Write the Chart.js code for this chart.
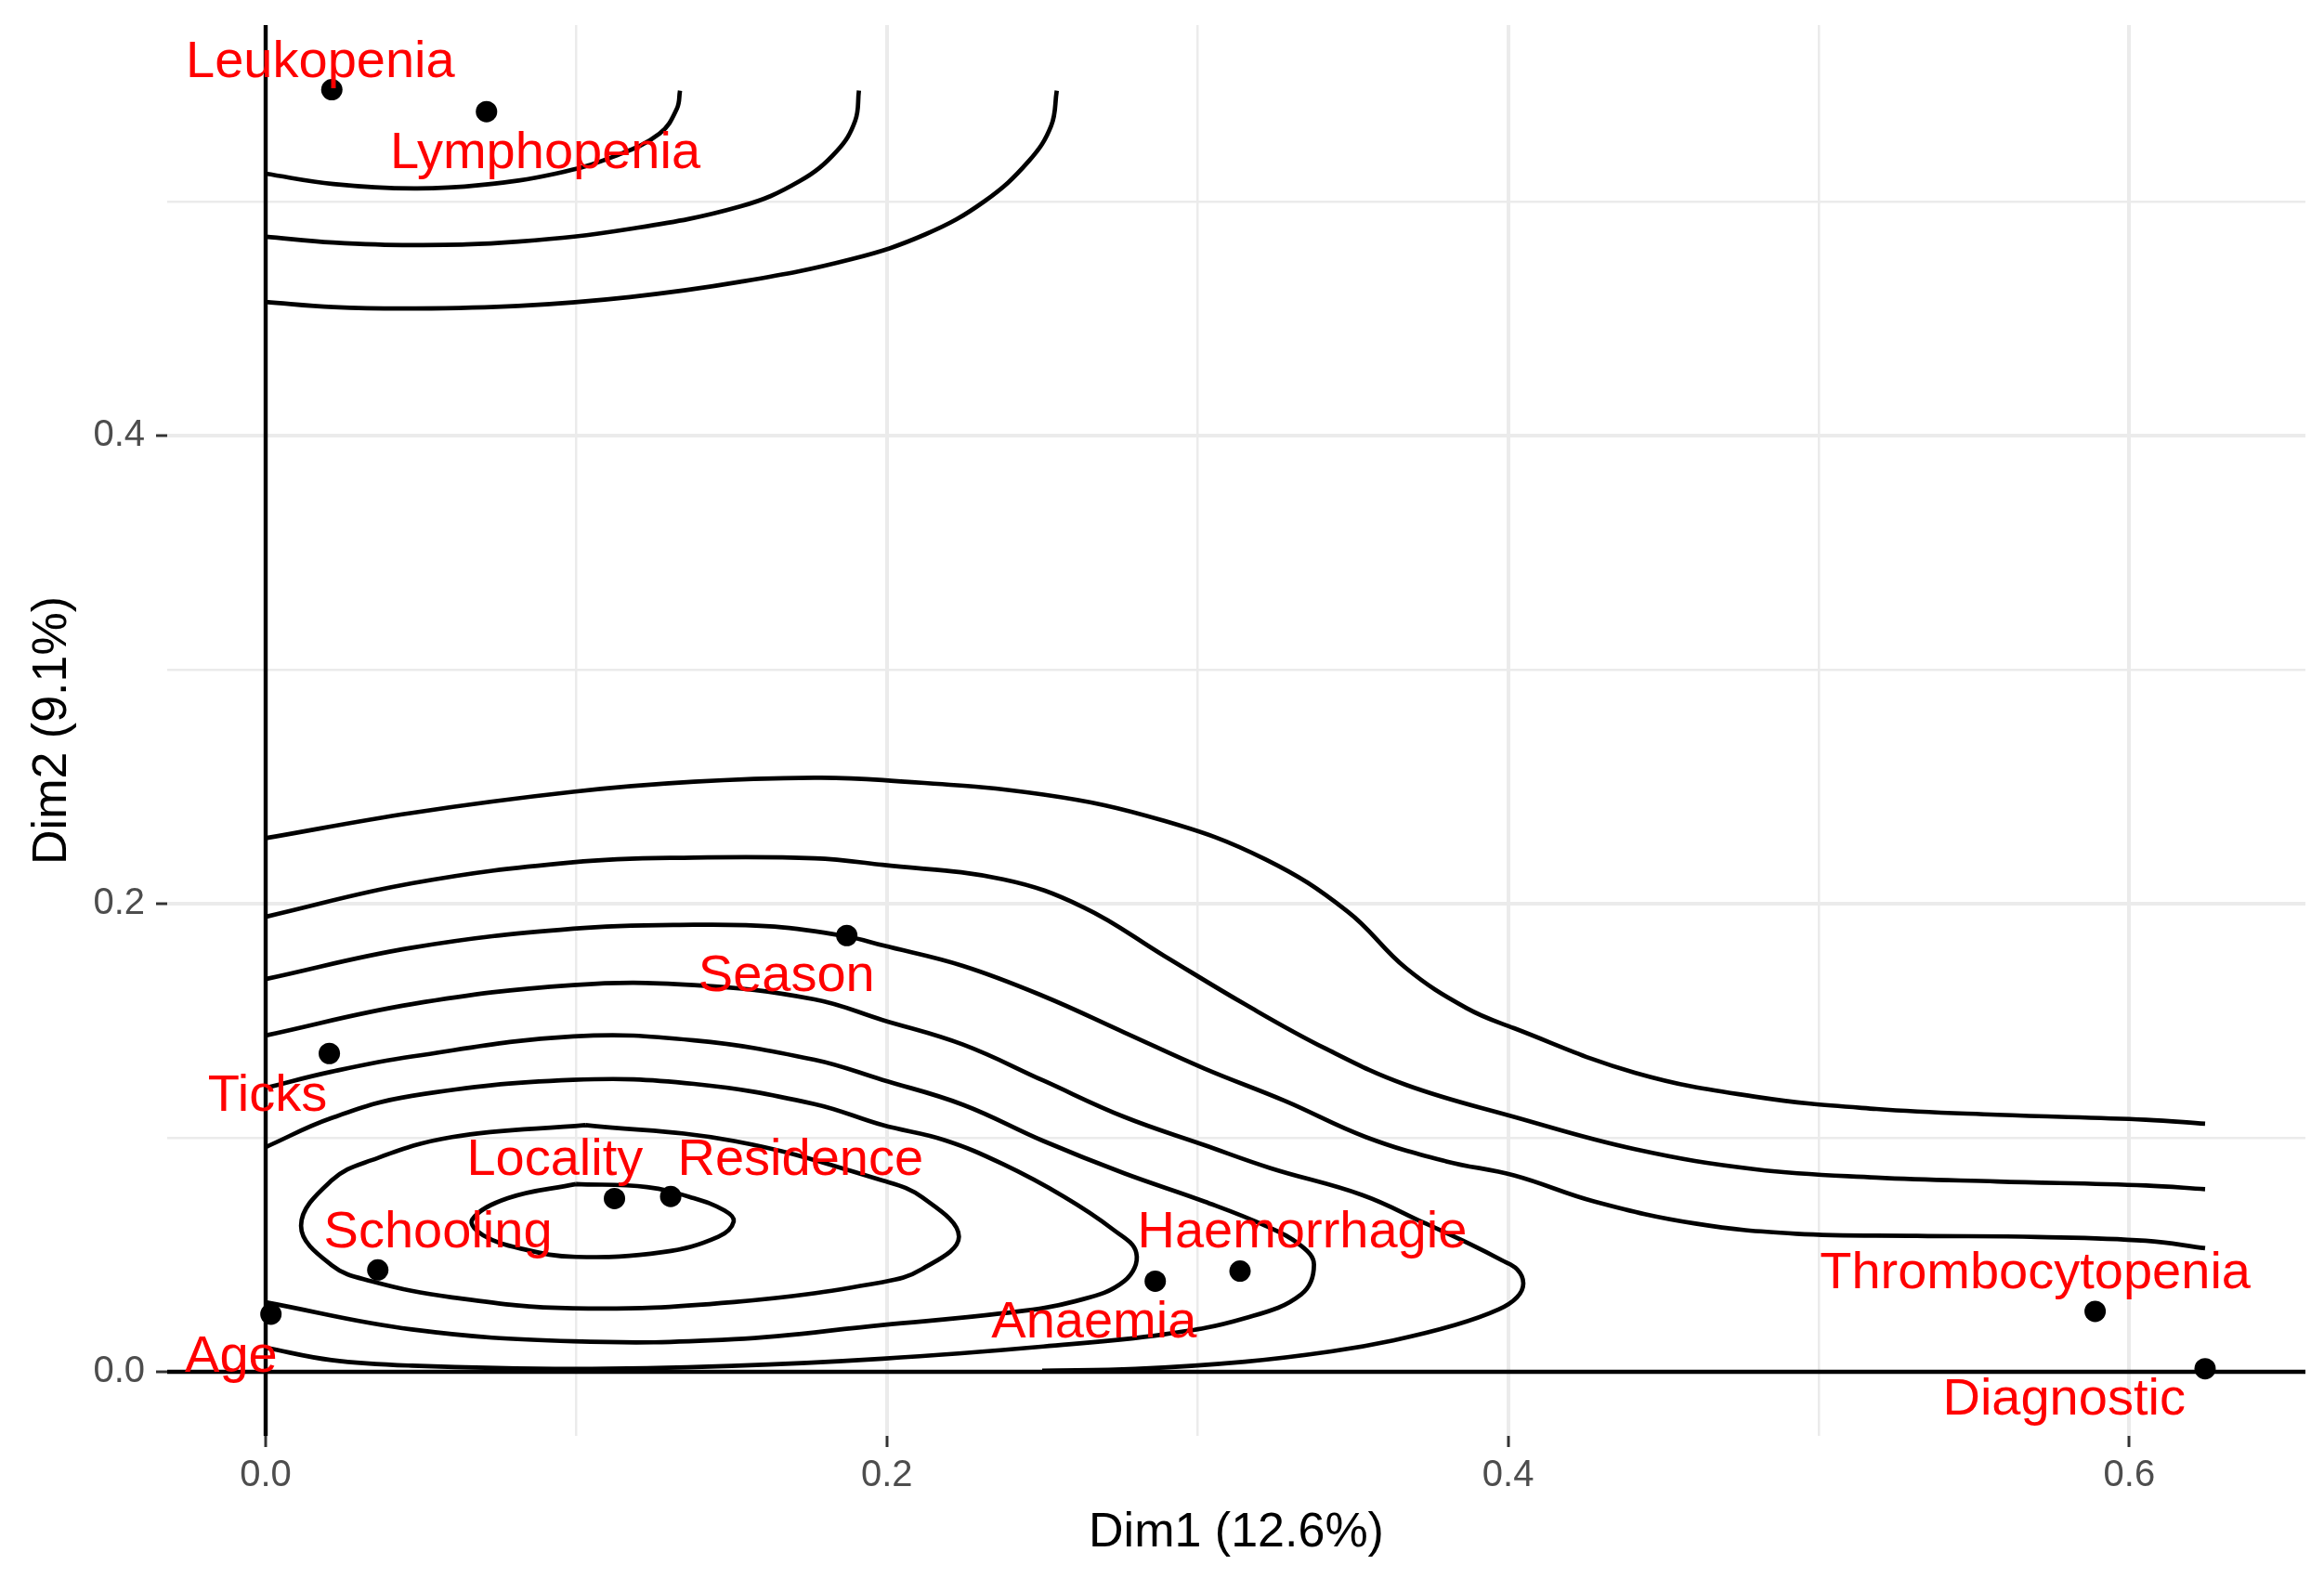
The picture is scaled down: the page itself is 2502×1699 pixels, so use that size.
<!DOCTYPE html>
<html>
<head>
<meta charset="utf-8">
<script src="https://cdn.jsdelivr.net/npm/chart.js@4.4.1/dist/chart.umd.min.js"></script>
<style>
  html, body { margin: 0; padding: 0; background: #fff; }
  canvas { display: block; }
</style>
</head>
<body>
<canvas id="chart1" width="2502" height="1699"></canvas>
<script>
// variables (points + red labels)
const varNames = ["Leukopenia", "Lymphopenia", "Season", "Ticks", "Locality", "Residence",
  "Schooling", "Age", "Anaemia", "Haemorrhagie", "Thrombocytopenia", "Diagnostic"];
const dim1 = [0.0213, 0.0711, 0.1871, 0.0205, 0.1123, 0.1304, 0.0361, 0.0017, 0.2864, 0.3137, 0.589, 0.6244];
const dim2 = [0.5478, 0.5384, 0.1864, 0.136, 0.074, 0.0749, 0.0435, 0.0246, 0.0387, 0.043, 0.0258, 0.0013];
const labelDim1 = [0.0176, 0.090, 0.1677, 0.0006, 0.0931, 0.1722, 0.0555, -0.0111, 0.2667, 0.3337, 0.5697, 0.579];
const labelDim2 = [0.5592, 0.5205, 0.1687, 0.1175, 0.0904, 0.0904, 0.0594, 0.006, 0.0206, 0.0594, 0.0418, -0.0122];

// axes
const xLimits = [-0.0317, 0.6567];
const yLimits = [-0.0274, 0.5754];
const xTickValues = [0, 0.1, 0.2, 0.3, 0.4, 0.5, 0.6];
const yTickValues = [0, 0.1, 0.2, 0.3, 0.4, 0.5];
const majorTickLabels = { "0.0": "0.0", "0.2": "0.2", "0.4": "0.4", "0.6": "0.6" };

// density contours (Dim1, Dim2)
const topContour1 = [[0, 0.5119], [0.0218, 0.5075], [0.0478, 0.5056], [0.0694, 0.5071], [0.0933, 0.5119],
  [0.1124, 0.5194], [0.1268, 0.529], [0.1324, 0.5397], [0.1334, 0.5474]];
const topContour2 = [[0, 0.485], [0.0218, 0.4825], [0.0478, 0.4814], [0.0813, 0.4829], [0.1172, 0.4883],
  [0.1528, 0.4979], [0.1719, 0.5087], [0.1839, 0.5216], [0.1898, 0.5345], [0.191, 0.5474]];
const topContour3 = [[0, 0.4571], [0.0218, 0.4549], [0.0478, 0.4543], [0.0813, 0.4554], [0.1172, 0.4592],
  [0.1528, 0.4657], [0.1886, 0.4754], [0.2126, 0.4861], [0.2314, 0.5001], [0.2457, 0.5173],
  [0.2529, 0.5324], [0.2547, 0.5474]];

const bandContour1 = [[0, 0.228], [0.0471, 0.2388], [0.099, 0.2478], [0.1379, 0.2521], [0.1767, 0.2538],
  [0.1986, 0.2528], [0.2504, 0.2466], [0.2893, 0.2354], [0.3218, 0.219], [0.3483, 0.1967], [0.3671, 0.1725],
  [0.3866, 0.1554], [0.4019, 0.1468], [0.4408, 0.1278], [0.4797, 0.1175], [0.5186, 0.1123], [0.5575, 0.1098],
  [0.6053, 0.1077], [0.6244, 0.106]];
const bandContour2 = [[0, 0.1944], [0.0471, 0.2087], [0.099, 0.2177], [0.1379, 0.2197], [0.1767, 0.2194],
  [0.1986, 0.2166], [0.2374, 0.2104], [0.2634, 0.1984], [0.2893, 0.1777], [0.3153, 0.157], [0.3412, 0.1381],
  [0.3671, 0.1226], [0.4019, 0.1089], [0.4408, 0.0951], [0.4797, 0.0865], [0.5186, 0.083], [0.5575, 0.0813],
  [0.6053, 0.0796], [0.6244, 0.078]];
const bandContour3 = [[0, 0.1678], [0.0471, 0.1812], [0.099, 0.1893], [0.1379, 0.191], [0.1638, 0.1902],
  [0.1871, 0.186], [0.1986, 0.1822], [0.2245, 0.1734], [0.2504, 0.1605], [0.2764, 0.145], [0.3023, 0.1295],
  [0.3282, 0.1157], [0.3542, 0.1003], [0.3801, 0.0899], [0.4019, 0.0839], [0.4279, 0.0727], [0.4603, 0.0633],
  [0.4927, 0.059], [0.5316, 0.0581], [0.5705, 0.0576], [0.6053, 0.056], [0.6244, 0.0528]];

const loopContour4 = [[0, 0.1437], [0.0471, 0.1571], [0.099, 0.1652], [0.1379, 0.1652], [0.1767, 0.1591],
  [0.1986, 0.1503], [0.2245, 0.1398], [0.2504, 0.1244], [0.2764, 0.1089], [0.3023, 0.0968], [0.3235, 0.087],
  [0.3531, 0.0755], [0.373, 0.0636], [0.388, 0.0544], [0.3979, 0.0477], [0.4029, 0.0438], [0.4049, 0.0378],
  [0.4029, 0.0319], [0.3969, 0.0266], [0.383, 0.02], [0.363, 0.0134], [0.3431, 0.0087], [0.3153, 0.0043],
  [0.28, 0.0012], [0.25, 0.0004]];
const loopContour3 = [[0, 0.1213], [0.0212, 0.1282], [0.0471, 0.1347], [0.099, 0.1433], [0.1379, 0.1416],
  [0.1767, 0.1333], [0.1986, 0.1247], [0.2245, 0.1141], [0.2504, 0.0986], [0.2764, 0.0848], [0.3023, 0.0727],
  [0.3218, 0.0624], [0.3334, 0.0538], [0.3375, 0.0458], [0.3334, 0.0331], [0.3153, 0.0229], [0.2893, 0.016],
  [0.2504, 0.0108], [0.1986, 0.0056], [0.15, 0.0025], [0.099, 0.0012], [0.0471, 0.0026], [0.0212, 0.005],
  [0, 0.0103]];
const loopContour2 = [[0, 0.096], [0.0212, 0.1084], [0.0471, 0.1179], [0.099, 0.1247], [0.1379, 0.123],
  [0.1767, 0.1144], [0.1986, 0.1054], [0.2185, 0.099], [0.2374, 0.0887], [0.2569, 0.0749], [0.2725, 0.0611],
  [0.2803, 0.0508], [0.2764, 0.0387], [0.2608, 0.0302], [0.2374, 0.025], [0.1986, 0.02], [0.1508, 0.0139],
  [0.099, 0.013], [0.0471, 0.0181], [0, 0.0297]];
const ringContour2 = [[0.1029, 0.1054], [0.1508, 0.0986], [0.1986, 0.0817], [0.2114, 0.0745], [0.2232, 0.0577],
  [0.2114, 0.0439], [0.1986, 0.0383], [0.1508, 0.0298], [0.099, 0.0271], [0.06, 0.0318], [0.0341, 0.0387],
  [0.0212, 0.0456], [0.0114, 0.0624], [0.0212, 0.0817], [0.0341, 0.0904], [0.06, 0.1003], [0.1029, 0.1054]];
const ringContour1 = [[0.0999, 0.0802], [0.1228, 0.0789], [0.1378, 0.0742], [0.1477, 0.0689], [0.1507, 0.0643],
  [0.1457, 0.0577], [0.1278, 0.0511], [0.0999, 0.0491], [0.0829, 0.0524], [0.07, 0.0583], [0.0665, 0.065],
  [0.078, 0.0742], [0.0999, 0.0802]];

const contours = [topContour1, topContour2, topContour3, bandContour1, bandContour2, bandContour3,
  loopContour4, loopContour3, loopContour2, ringContour2, ringContour1];

const toXY = (pts) => pts.map(([x, y]) => ({ x, y }));
const isMajor = (v) => Math.round(v * 10) % 2 === 0;
const fmt = (v) => (Math.round(v * 10) / 10).toFixed(1);

const labelPlugin = {
  id: "varLabels",
  afterDatasetsDraw(chart) {
    const { ctx, scales } = chart;
    ctx.save();
    ctx.font = '56px "Liberation Sans", Arial, sans-serif';
    ctx.fillStyle = "#FF0000";
    ctx.textAlign = "center";
    ctx.textBaseline = "middle";
    varNames.forEach((name, i) => {
      ctx.fillText(name, scales.x.getPixelForValue(labelDim1[i]), scales.y.getPixelForValue(labelDim2[i]));
    });
    ctx.restore();
  }
};

const mountChart = () => {
  const lineSet = (pts, width) => ({
    data: toXY(pts),
    showLine: true,
    borderColor: "#000000",
    borderWidth: width,
    pointRadius: 0,
    tension: 0.4,
    fill: false
  });

  const datasets = [
    lineSet([[0, yLimits[0]], [0, yLimits[1]]], 4.4),
    lineSet([[xLimits[0], 0], [xLimits[1], 0]], 4.4),
    ...contours.map((c) => lineSet(c, 4.7)),
    {
      data: dim1.map((x, i) => ({ x, y: dim2[i] })),
      pointRadius: 11.5,
      pointBackgroundColor: "#000000",
      pointBorderWidth: 0,
      showLine: false
    }
  ];

  const gridOpts = {
    color: "#EBEBEB",
    lineWidth: (c) => (c.tick && isMajor(c.tick.value) ? 4 : 2.5),
    tickColor: (c) => (c.tick && isMajor(c.tick.value) ? "#333333" : "rgba(0,0,0,0)"),
    tickWidth: 3,
    tickLength: 12
  };

  new Chart(document.getElementById("chart1"), {
    type: "scatter",
    data: { datasets },
    plugins: [labelPlugin],
    options: {
      responsive: false,
      devicePixelRatio: 1,
      animation: false,
      layout: { padding: { left: 0, top: 27, right: 20, bottom: 0 } },
      plugins: { legend: { display: false }, tooltip: { enabled: false } },
      scales: {
        x: {
          type: "linear",
          min: xLimits[0],
          max: xLimits[1],
          border: { display: false },
          grid: gridOpts,
          afterBuildTicks: (axis) => { axis.ticks = xTickValues.map((v) => ({ value: v })); },
          afterFit: (axis) => {
            axis.height = 153;
            axis.paddingLeft = 0;
            axis.paddingRight = 0;
          },
          ticks: {
            padding: 7,
            color: "#4D4D4D",
            font: { family: '"Liberation Sans", Arial, sans-serif', size: 40 },
            callback: (v) => majorTickLabels[fmt(v)] || ""
          },
          title: {
            display: true,
            text: "Dim1 (12.6%)",
            color: "#000000",
            font: { family: '"Liberation Sans", Arial, sans-serif', size: 52 },
            padding: { top: 0, bottom: 17 }
          }
        },
        y: {
          type: "linear",
          min: yLimits[0],
          max: yLimits[1],
          border: { display: false },
          grid: gridOpts,
          afterBuildTicks: (axis) => { axis.ticks = yTickValues.map((v) => ({ value: v })); },
          afterFit: (axis) => {
            axis.width = 180;
            axis.paddingTop = 0;
            axis.paddingBottom = 0;
          },
          ticks: {
            padding: 12,
            color: "#4D4D4D",
            font: { family: '"Liberation Sans", Arial, sans-serif', size: 40 },
            callback: (v) => majorTickLabels[fmt(v)] || ""
          },
          title: {
            display: true,
            text: "Dim2 (9.1%)",
            color: "#000000",
            font: { family: '"Liberation Sans", Arial, sans-serif', size: 52 },
            padding: { top: 25, bottom: 0 }
          }
        }
      }
    }
  });
};

mountChart();
</script>
</body>
</html>
